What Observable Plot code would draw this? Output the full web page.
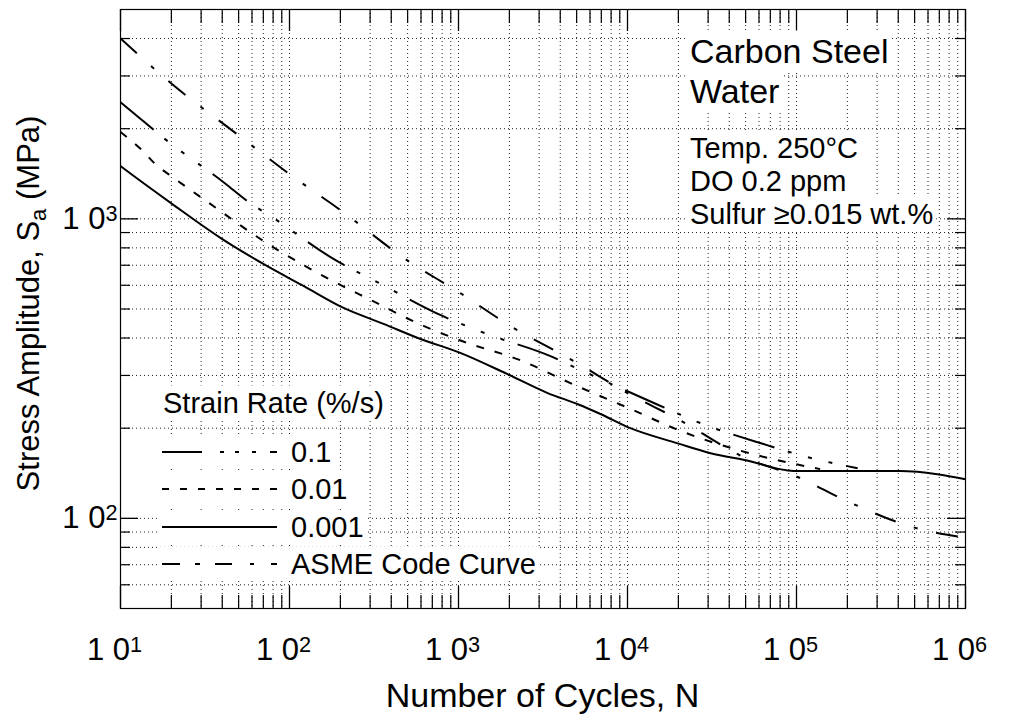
<!DOCTYPE html>
<html><head><meta charset="utf-8">
<script src="https://cdn.jsdelivr.net/npm/d3@7"></script>
<script src="https://cdn.jsdelivr.net/npm/@observablehq/plot@0.6"></script>
<style>
body{margin:0;background:#fff;}
#chart svg{display:block;}
</style>
</head><body><div id="chart"></div>
<script>
const FONT = '"Liberation Sans", Arial, Helvetica, sans-serif';

// ---- data ----
const rate01N = [10, 11.5, 17.9, 41.8, 56, 80, 182, 345, 804, 1486, 3500, 5130, 15000, 27000, 63800, 117000, 230000];
const rate01S = [2450, 2297, 1866, 1310, 1149, 1008, 735, 607, 474, 412, 348, 315, 240, 208, 177, 160, 147];

const rate001N = [10, 13.5, 16, 20.6, 34, 70, 147, 310, 621, 1130, 2233, 5060, 10400, 21000, 43600, 92000, 138000];
const rate001S = [1950, 1688, 1527, 1371, 1122, 844, 659, 532, 439, 385, 340, 276, 232, 195, 170, 153, 146];

const rate0001N = [10, 11.5, 19.8, 39, 70, 121, 209, 360, 596, 1024, 1950, 3370, 5130, 6920, 10400, 19800, 31000, 51000, 96000, 200000, 412000, 520000, 1000000];
const rate0001S = [1500, 1414, 1131, 864, 707, 597, 504, 446, 397, 357, 303, 262, 240, 223, 200, 178, 165, 156, 144, 144, 144, 143, 135];

const asmeN = [10, 20, 50, 100, 200, 500, 1000, 2000, 5000, 1e4, 2e4, 5e4, 1e5, 2e5, 5e5, 1e6];
const asmeS = [4000, 2830, 1900, 1410, 1070, 725, 570, 441, 331, 262, 214, 159, 138, 114, 93.1, 86.2];

const xTicks = [10, 100, 1e3, 1e4, 1e5, 1e6];
const xTickLabels = ["1 0|1", "1 0|2", "1 0|3", "1 0|4", "1 0|5", "1 0|6"];
const yTicks = [100, 1000];
const yTickLabels = ["1 0|2", "1 0|3"];

const legendTitle = "Strain Rate (%/s)";
const legendLabels = ["0.1", "0.01", "0.001", "ASME Code Curve"];
const noteBig = ["Carbon Steel", "Water"];
const noteSmall = ["Temp. 250°C", "DO 0.2 ppm", "Sulfur \u22650.015 wt.%"];
const xTitle = "Number of Cycles, N";
const yTitleParts = ["Stress Amplitude, S", "a", " (MPa)"];

// ---- layout ----
const W = 1009, H = 722, mL = 120, mR = 44, mT = 9, mB = 114;
const plotW = W - mL - mR, plotH = H - mT - mB;

const toRows = (N, S) => N.map((n, i) => ({N: n, S: S[i]}));
const rows01 = toRows(rate01N, rate01S);
const rows001 = toRows(rate001N, rate001S);
const rows0001 = toRows(rate0001N, rate0001S);
const rowsAsme = toRows(asmeN, asmeS);

const xLabelMap = new Map(xTicks.map((t, i) => [t, xTickLabels[i]]));
const yLabelMap = new Map(yTicks.map((t, i) => [t, yTickLabels[i]]));
const labelOf = (map) => (d) => map.get(d) ?? map.get([...map.keys()].find(k => Math.abs(k - d) / k < 1e-6));

const xMinor = [];
for (let k = 1; k <= 5; k++) for (let m = 2; m <= 9; m++) xMinor.push(m * 10 ** k);
const yMinor = [];
for (const d of [10, 100, 1000]) for (let m = 2; m <= 9; m++) { const v = m * d; if (v > 50 && v < 5000) yMinor.push(v); }

const dash01 = "43,14,4,17,4,17,4,14";
const dash001 = "8,11";
const dashAsme = "22,19,4,19";

const lineOpts = (dash) => ({x: "N", y: "S", stroke: "black", strokeWidth: 2, strokeDasharray: dash, curve: "monotone-x", strokeLinecap: "butt"});
const gridOpts = {stroke: "#222", strokeWidth: 1, strokeDasharray: "1,3"};

const chart = Plot.plot({
  width: W, height: H,
  marginLeft: mL, marginRight: mR, marginTop: mT, marginBottom: mB,
  style: {fontFamily: FONT, fontSize: "31px", color: "black", background: "white"},
  x: {type: "log", domain: [10, 1e6]},
  y: {type: "log", domain: [50, 5000]},
  marks: [
    Plot.ruleX([...xMinor, ...xTicks.slice(1, -1)], gridOpts),
    Plot.ruleY([...yMinor, ...yTicks], gridOpts),
    Plot.tickX(xTicks, {insetBottom: plotH - 22, stroke: "black", strokeWidth: 1.3}),
    Plot.tickX(xMinor, {insetBottom: plotH - 14, stroke: "black", strokeWidth: 1.2}),
    Plot.tickX(xTicks, {insetTop: plotH - 22, stroke: "black", strokeWidth: 1.3}),
    Plot.tickX(xMinor, {insetTop: plotH - 13, stroke: "black", strokeWidth: 1.2}),
    Plot.tickY(yTicks, {insetRight: plotW - 18, stroke: "black", strokeWidth: 1.3}),
    Plot.tickY(yMinor, {insetRight: plotW - 10, stroke: "black", strokeWidth: 1.2}),
    Plot.tickY(yTicks, {insetLeft: plotW - 18, stroke: "black", strokeWidth: 1.3}),
    Plot.tickY(yMinor, {insetLeft: plotW - 10, stroke: "black", strokeWidth: 1.2}),
    Plot.frame({stroke: "black", strokeWidth: 1.2}),
    Plot.line(rowsAsme, lineOpts(dashAsme)),
    Plot.line(rows01, lineOpts(dash01)),
    Plot.line(rows001, lineOpts(dash001)),
    Plot.line(rows0001, lineOpts(null)),
    Plot.axisX(xTicks, {anchor: "bottom", tickSize: 0, tickPadding: 29, fontSize: 31, tickFormat: labelOf(xLabelMap), label: null}),
    Plot.axisY(yTicks, {anchor: "left", tickSize: 0, tickPadding: 3, fontSize: 31, tickFormat: labelOf(yLabelMap), label: null}),
  ]
});
document.getElementById("chart").appendChild(chart);

const svg = d3.select(chart);

// superscript exponents on tick labels
const sup = (sel, centerBase) => sel.each(function () {
  const t = d3.select(this);
  const s = t.text();
  if (!s.includes("|")) return;
  const [base, exp] = s.split("|");
  t.text(null);
  t.append("tspan").text(base);
  const e = t.append("tspan").attr("dy", "-0.36em").attr("font-size", "0.7em").text(exp);
  if (centerBase) {
    const w = e.node().getComputedTextLength();
    t.attr("dx", -w / 2);
  }
});
sup(svg.selectAll('g[aria-label="x-axis tick label"] text'), true);
sup(svg.selectAll('g[aria-label="y-axis tick label"] text'), false);

const txt = (g, x, y, s, size, anchor = "start") =>
  g.append("text").attr("x", x).attr("y", y).attr("font-family", FONT).attr("font-size", size)
   .attr("fill", "black").attr("text-anchor", anchor).text(s);

const withBox = (g, node, pad) => {
  const b = node.getBBox();
  g.insert("rect", () => node).attr("x", b.x - pad).attr("y", b.y - pad / 2)
    .attr("width", b.width + 2 * pad).attr("height", b.height + pad).attr("fill", "white");
};

// axis titles
const titles = svg.append("g");
txt(titles, mL + plotW / 2, 707, xTitle, 34, "middle");
const yt = titles.append("text").attr("transform", `translate(39,${mT + plotH / 2 - 5}) rotate(-90)`)
  .attr("text-anchor", "middle").attr("font-family", FONT).attr("font-size", 31).attr("fill", "black");
yt.append("tspan").text(yTitleParts[0]);
yt.append("tspan").attr("dy", 7).attr("font-size", 22).text(yTitleParts[1]);
yt.append("tspan").attr("dy", -7).text(yTitleParts[2]);

// annotation block (top right)
const notes = svg.append("g");
const nb1 = txt(notes, 690, 63, noteBig[0], 34);
const nb2 = txt(notes, 690, 103, noteBig[1], 34);
const ns = noteSmall.map((s, i) => txt(notes, 690, 158 + 33 * i, s, 29));
[nb1, nb2, ...ns].forEach(t => withBox(notes, t.node(), 3));

// legend
const leg = svg.append("g");
const lt = txt(leg, 163, 413, legendTitle, 29);
withBox(leg, lt.node(), 3);
const legDash = ["40,18,4,11,4,13,4,14,7,60", "7,11", null, "18,15,5,15,17,18,4,17,7,60"];
const rowY = [452, 489, 527, 564];
legendLabels.forEach((s, i) => {
  const t = txt(leg, 291, rowY[i] + 10, s, 29);
  const b = t.node().getBBox();
  leg.insert("rect", () => t.node()).attr("x", 158).attr("y", b.y - 1).attr("width", b.x + b.width + 4 - 158)
     .attr("height", b.height + 2).attr("fill", "white");
  leg.append("line").attr("x1", 162).attr("x2", 277).attr("y1", rowY[i]).attr("y2", rowY[i])
     .attr("stroke", "black").attr("stroke-width", 2).attr("stroke-dasharray", legDash[i]);
});
</script>
</body></html>
